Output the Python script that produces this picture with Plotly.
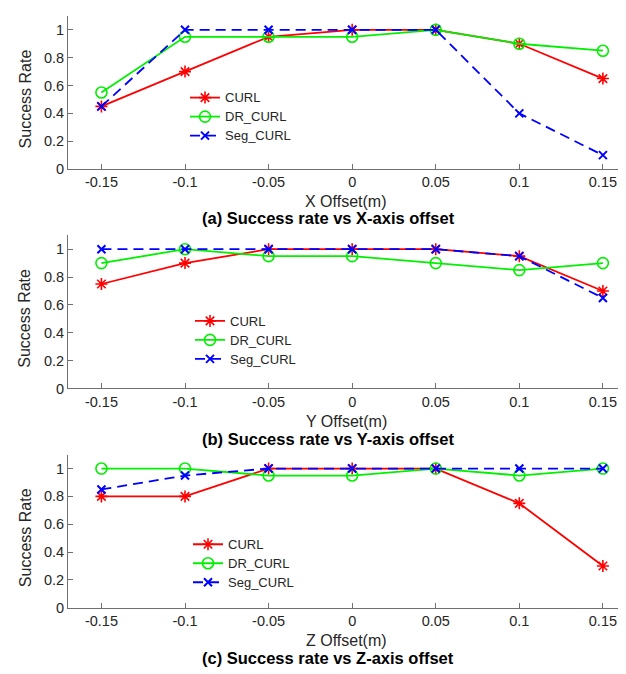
import plotly.graph_objects as go

offsets = [-0.15, -0.1, -0.05, 0, 0.05, 0.1, 0.15]
x_tick_labels = ["-0.15", "-0.1", "-0.05", "0", "0.05", "0.1", "0.15"]
y_tick_vals = [0, 0.2, 0.4, 0.6, 0.8, 1]
y_tick_labels = ["0", "0.2", "0.4", "0.6", "0.8", "1"]

# (a) X-axis offset
x_curl = [0.45, 0.70, 0.95, 1.00, 1.00, 0.90, 0.65]
x_dr_curl = [0.55, 0.95, 0.95, 0.95, 1.00, 0.90, 0.85]
x_seg_curl = [0.45, 1.00, 1.00, 1.00, 1.00, 0.40, 0.10]
# (b) Y-axis offset
y_curl = [0.75, 0.90, 1.00, 1.00, 1.00, 0.95, 0.70]
y_dr_curl = [0.90, 1.00, 0.95, 0.95, 0.90, 0.85, 0.90]
y_seg_curl = [1.00, 1.00, 1.00, 1.00, 1.00, 0.95, 0.65]
# (c) Z-axis offset
z_curl = [0.80, 0.80, 1.00, 1.00, 1.00, 0.75, 0.30]
z_dr_curl = [1.00, 1.00, 0.95, 0.95, 1.00, 0.95, 1.00]
z_seg_curl = [0.85, 0.95, 1.00, 1.00, 1.00, 1.00, 1.00]

series_names = ["CURL", "DR_CURL", "Seg_CURL"]
x_labels = ["X Offset(m)", "Y Offset(m)", "Z Offset(m)"]
y_label = "Success Rate"
titles = ["(a) Success rate vs X-axis offset",
          "(b) Success rate vs Y-axis offset",
          "(c) Success rate vs Z-axis offset"]
panels = [(x_curl, x_dr_curl, x_seg_curl),
          (y_curl, y_dr_curl, y_seg_curl),
          (z_curl, z_dr_curl, z_seg_curl)]

W, H = 626, 674
FONT = "Liberation Sans, Arial, sans-serif"
TXT = "#262626"
AX = "#707070"

styles = [
    dict(line=dict(color="#ff0000", width=1.8),
         marker=dict(symbol="asterisk-open", size=10, color="#ff0000",
                     line=dict(color="#ff0000", width=1.6))),
    dict(line=dict(color="#00f000", width=1.8),
         marker=dict(symbol="circle-open", size=11, color="#00f000",
                     line=dict(color="#00f000", width=1.6))),
    dict(line=dict(color="#0000ff", width=1.8, dash="10px,6px"),
         marker=dict(symbol="x-thin-open", size=8, color="#0000ff",
                     line=dict(color="#0000ff", width=2))),
]

# pixel layout (top-based)
plot_bottom = [163, 385, 607]
plot_top = [8, 230, 452]
xlab_y = [195.5, 418, 640]
title_y = [213, 436, 658]
legend_top = [76, 302, 528]
legend_x = [177, 182, 180]

fig = go.Figure()
legend_names = ["legend", "legend2", "legend3"]
for i, data in enumerate(panels):
    suffix = "" if i == 0 else str(i + 1)
    for j, vals in enumerate(data):
        fig.add_trace(go.Scatter(
            x=offsets, y=vals,
            name="<span style='font-size:13px'>" + series_names[j] + "</span>",
            mode="lines+markers",
            xaxis="x" + suffix, yaxis="y" + suffix,
            legend=legend_names[i], **styles[j]))

layout = dict(
    width=W, height=H, margin=dict(l=0, r=0, t=0, b=0),
    paper_bgcolor="white", plot_bgcolor="white",
    font=dict(family=FONT, size=14, color=TXT),
    showlegend=True,
)
annotations = []
for i in range(3):
    suffix = "" if i == 0 else str(i + 1)
    layout["xaxis" + suffix] = dict(
        domain=[60 / W, 1], range=[-0.17, 0.1686],
        anchor="y" + suffix, tickvals=offsets, ticktext=x_tick_labels,
        ticks="inside", ticklen=5, tickcolor=AX, showline=True,
        linecolor=AX, linewidth=1, showgrid=False, zeroline=False,
        tickfont=dict(size=14.5, color=TXT, family=FONT))
    layout["yaxis" + suffix] = dict(
        domain=[1 - plot_bottom[i] / H, 1 - plot_top[i] / H],
        range=[0, 1.1], anchor="x" + suffix,
        tickvals=y_tick_vals, ticktext=y_tick_labels,
        ticks="inside", ticklen=5, tickcolor=AX, showline=True,
        linecolor=AX, linewidth=1, showgrid=False, zeroline=False,
        tickfont=dict(size=14.5, color=TXT, family=FONT))
    layout[legend_names[i]] = dict(
        x=legend_x[i] / W, y=1 - legend_top[i] / H, xanchor="left", yanchor="top",
        bgcolor="rgba(255,255,255,0)", borderwidth=0,
        font=dict(size=12, color=TXT, family=FONT), tracegroupgap=0)
    annotations.append(dict(
        text=y_label, x=17 / W, y=1 - ((plot_bottom[i] + plot_top[i]) / 2 + 7) / H,
        xref="paper", yref="paper", textangle=-90,
        showarrow=False, xanchor="center", yanchor="middle",
        font=dict(size=16, color=TXT, family=FONT)))
    annotations.append(dict(
        text=x_labels[i], x=338 / W, y=1 - xlab_y[i] / H, xref="paper", yref="paper",
        showarrow=False, xanchor="center", yanchor="middle",
        font=dict(size=16, color=TXT, family=FONT)))
    annotations.append(dict(
        text="<b>" + titles[i] + "</b>", x=320 / W, y=1 - title_y[i] / H,
        xref="paper", yref="paper", showarrow=False, xanchor="center", yanchor="middle",
        font=dict(size=16.5, color="#000000", family=FONT)))
layout["annotations"] = annotations
fig.update_layout(**layout)

fig.write_html("out.html")
